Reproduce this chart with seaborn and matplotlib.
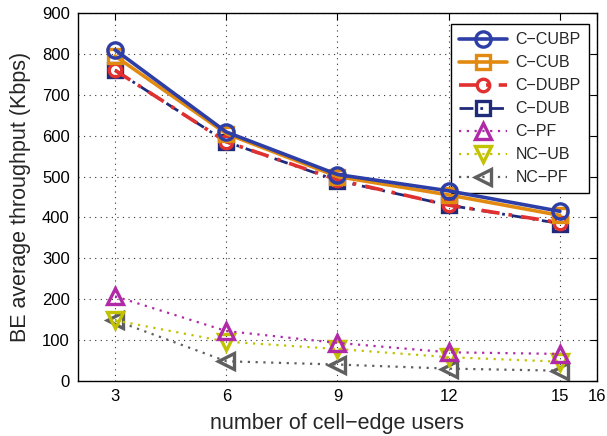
import matplotlib
matplotlib.use("Agg")
import matplotlib.pyplot as plt
import seaborn as sns
import pandas as pd

users = [3, 6, 9, 12, 15]
c_cubp = [810, 609, 505, 465, 415]
c_cub = [795, 605, 500, 455, 405]
c_dubp = [760, 585, 492, 430, 387]
c_dub = [760, 585, 490, 430, 385]
c_pf = [207, 122, 93, 70, 66]
nc_ub = [148, 96, 78, 58, 47]
nc_pf = [148, 48, 40, 30, 25]

series_names = ["C\u2212CUBP", "C\u2212CUB", "C\u2212DUBP", "C\u2212DUB", "C\u2212PF", "NC\u2212UB", "NC\u2212PF"]
series_vals = [c_cubp, c_cub, c_dubp, c_dub, c_pf, nc_ub, nc_pf]
xticks = [3, 6, 9, 12, 15, 16]
yticks = [0, 100, 200, 300, 400, 500, 600, 700, 800, 900]

styles = {
    "C\u2212CUBP": dict(color="#2d3fa6", ls="-", marker="o", ms=11, lw=2.6, z=8),
    "C\u2212CUB": dict(color="#e28a10", ls="-", marker="s", ms=10, lw=2.6, z=7),
    "C\u2212DUBP": dict(color="#e03030", ls=(0, (5, 2.5, 1, 2.5)), marker="o", ms=9, lw=2.6, z=6),
    "C\u2212DUB": dict(color="#1f2a7a", ls=(0, (5, 2.5, 1, 2.5)), marker="s", ms=10, lw=2.0, z=5),
    "C\u2212PF": dict(color="#b02aa8", ls=(0, (1, 2.5)), marker="^", ms=11.5, lw=1.6, z=4),
    "NC\u2212UB": dict(color="#c2c200", ls=(0, (1, 2.5)), marker="v", ms=11.5, lw=1.6, z=3),
    "NC\u2212PF": dict(color="#5f5f5f", ls=(0, (1, 2.5)), marker="<", ms=11.5, lw=1.6, z=2),
}

df = pd.DataFrame({
    "users": users * len(series_names),
    "value": [v for vals in series_vals for v in vals],
    "series": [n for n in series_names for _ in users],
})

sns.set_style("white")
plt.rcParams["font.family"] = ["Liberation Sans", "DejaVu Sans"]

fig = plt.figure(figsize=(6.07, 4.36), dpi=100)
ax = fig.add_axes([0.1285, 0.1264, 0.8550, 0.8436])

for name in series_names:
    st = styles[name]
    sub = df[df["series"] == name]
    sns.lineplot(data=sub, x="users", y="value", ax=ax, color=st["color"],
                 linestyle=st["ls"], marker=st["marker"], markersize=st["ms"],
                 markerfacecolor="none", markeredgecolor=st["color"],
                 markeredgewidth=2.4, linewidth=st["lw"], zorder=st["z"],
                 label=name, legend=False)

ax.set_xlim(2, 16)
ax.set_ylim(0, 900)
ax.set_xticks(xticks)
ax.set_yticks(yticks)
ax.tick_params(direction="in", top=True, right=True, labelsize=12, length=5, width=0.8,
               colors="black", pad=6)
ax.grid(True, color="#333333", linestyle=(0, (1, 4)), linewidth=0.8)
for sp in ax.spines.values():
    sp.set_color("black")
    sp.set_linewidth(1.0)
ax.set_xlabel("number of cell\u2212edge users", fontsize=15.5, labelpad=6)
ax.set_ylabel("BE average throughput (Kbps)", fontsize=15.5, labelpad=8)

handles, labels = ax.get_legend_handles_labels()
leg = ax.legend(handles, labels, loc="upper right", bbox_to_anchor=(0.993, 0.982),
                fontsize=11.5, frameon=True, fancybox=False, edgecolor="black",
                framealpha=1, handlelength=3.0, borderpad=0.5, labelspacing=0.5,
                handletextpad=0.5, borderaxespad=0.3)
leg.get_frame().set_linewidth(1.0)

fig.savefig("out.png", dpi=100)
